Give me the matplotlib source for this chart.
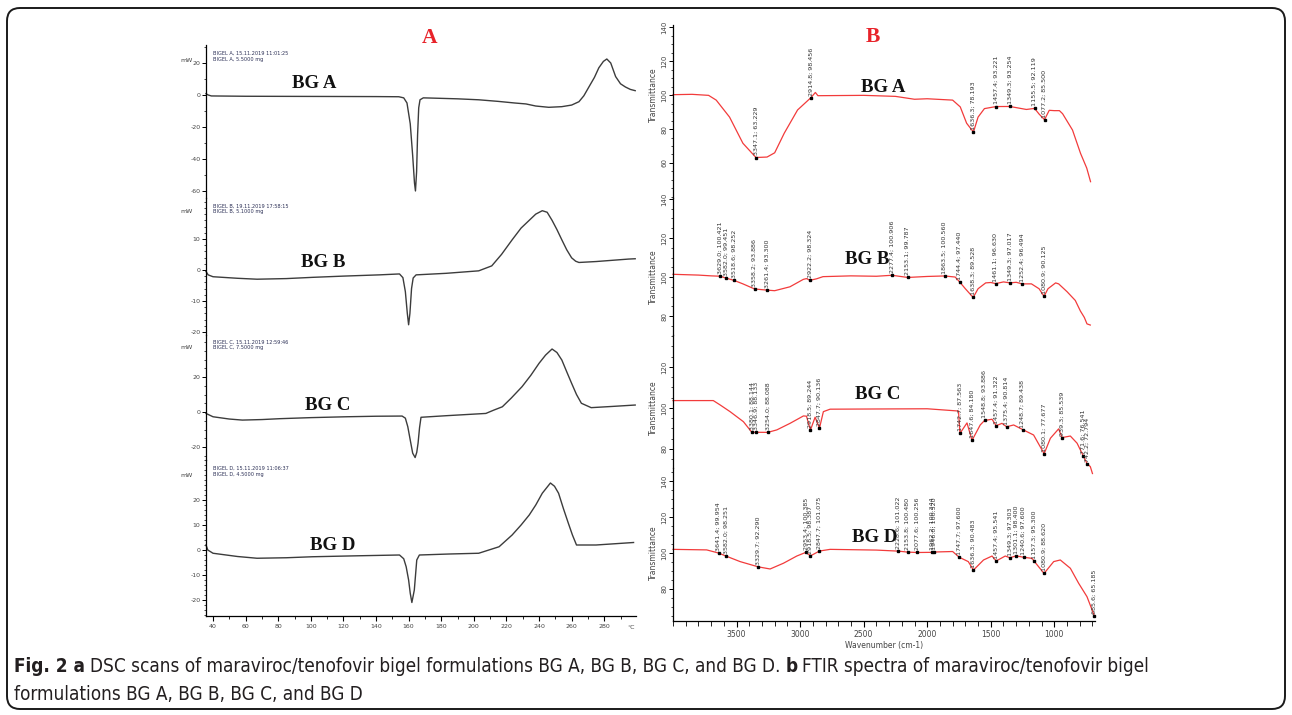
import numpy as np
import matplotlib
matplotlib.use('Agg')
import matplotlib.pyplot as plt
import matplotlib.transforms as mtransforms
from matplotlib import font_manager
from matplotlib.font_manager import FontProperties
from matplotlib.patches import FancyBboxPatch
from matplotlib.ticker import MultipleLocator, FixedLocator

plt.rcParams['axes.unicode_minus'] = False

W, H = 1292, 715

# ---------------- DSC data (temperature in degC, heat flow in mW) ----------------
dsc_names = ['BG A', 'BG B', 'BG C', 'BG D']
dsc_headers = ['BIGEL A, 15.11.2019 11:01:25\nBIGEL A, 5.5000 mg',
               'BIGEL B, 19.11.2019 17:58:15\nBIGEL B, 5.1000 mg',
               'BIGEL C, 15.11.2019 12:59:46\nBIGEL C, 7.5000 mg',
               'BIGEL D, 15.11.2019 11:06:37\nBIGEL D, 4.5000 mg']

dsc_a_temp = [35.7, 37, 39, 60, 100, 140, 154, 157, 159, 161, 162.5, 163.6, 164.2, 164.9, 165.5,
              166.2, 167, 169, 173, 190, 203, 215, 225, 232, 238, 246, 254, 260, 264.5, 267.5,
              270.6, 274, 276.7, 279.5, 281.6, 284, 287, 290, 293, 296, 299]
dsc_a_flow = [0.8, 0.0, -0.6, -0.8, -0.9, -1.0, -1.1, -1.8, -5, -18, -38, -55, -60, -48, -25,
              -8, -3, -1.8, -1.9, -2.4, -3.0, -4.0, -5.0, -5.6, -6.9, -7.7, -7.3, -6.3, -4.2, -0.5,
              5, 11, 17, 21, 22.5, 20, 11.5, 7, 5, 3.5, 2.7]

dsc_b_temp = [35.7, 37, 40, 55, 67, 85, 101, 120, 142, 154.4, 156.5, 158, 159.2, 160, 160.8,
              161.8, 162.8, 164.6, 183, 203, 211, 217, 223.5, 229, 234, 238, 242, 245, 248, 251,
              254, 257, 260, 262.5, 264.5, 275, 295, 299]
dsc_b_flow = [-0.5, -1.6, -2.2, -2.7, -3.0, -2.8, -2.4, -2.0, -1.6, -1.3, -2.5, -7, -14, -17.7, -14,
              -6, -2.6, -1.6, -1.1, -0.3, 1.3, 5, 9.7, 13.5, 16, 18, 19.1, 18.6, 16, 13,
              9.7, 6.5, 3.9, 2.8, 2.4, 2.7, 3.5, 3.6]

dsc_c_temp = [35.7, 40, 50, 58, 70, 81, 100, 122, 140, 156, 158, 159.5, 161, 162.5, 164,
              165, 165.8, 166.7, 167.6, 183, 207.4, 212, 217.5, 223, 229.6, 235, 240, 244, 248, 251,
              254, 257, 260, 263, 266, 272, 285, 299]
dsc_c_flow = [-0.8, -2.7, -4.0, -4.6, -4.3, -3.8, -3.2, -2.7, -2.4, -2.3, -3.5, -8.4, -16, -23.5, -26,
              -23, -17.8, -9, -3, -2.1, -0.8, 1, 3, 8, 14.5, 21, 27.8, 32.5, 36, 34,
              29.7, 23, 16.4, 10, 5, 2.5, 3.2, 4]

dsc_d_temp = [35.7, 36.8, 40, 55, 67, 85, 101, 130, 154.4, 157, 158.5, 160, 161, 162, 163.5,
              165, 166.6, 185, 203, 215.5, 223.5, 229, 234, 238, 242, 247, 249.5, 252, 255, 258,
              260.5, 263, 275, 298]
dsc_d_flow = [2, 0, -1.3, -2.6, -3.3, -3.1, -2.7, -2.3, -2.0, -3.5, -6.7, -12, -17.3, -21, -16,
              -4, -2, -1.6, -1.3, 1.3, 6, 10, 14, 18, 22.7, 26.8, 25.5, 22.7, 16.5, 10.7,
              6, 2, 2, 3]

dsc_temp_ticks = [40, 60, 80, 100, 120, 140, 160, 180, 200, 220, 240, 260, 280]

# ---------------- FTIR data (wavenumber in cm-1, transmittance in %) ----------------
ftir_a_wn = [4000, 3850, 3720, 3660, 3555, 3450, 3260, 3200, 3125, 3020, 2880, 2860, 2500, 2250, 2100,
             2000, 1800, 1740, 1690, 1600, 1550, 1220, 1120, 1040, 1000, 960, 935, 857, 794, 745, 715]
ftir_a_t = [100.2, 100.4, 99.8, 97, 87, 71.6, 63.5, 66, 77.5, 91.2, 101.5, 99.6, 99.8, 99.2, 97.5,
            97.8, 97, 93, 83.4, 87, 92, 91.5, 88.8, 91, 90.8, 90.8, 89, 79.4, 65.7, 57, 49]
ftir_a_peak_wn = [3347.1, 2914.8, 1636.3, 1457.4, 1349.3, 1155.5, 1077.2]
ftir_a_peak_t = [63.229, 98.456, 78.193, 93.221, 93.254, 92.119, 85.500]

ftir_b_wn = [4000, 3800, 3700, 3450, 3200, 3080, 2975, 2950, 2870, 2820, 2600, 2400, 2000, 1780, 1700,
             1600, 1540, 1500, 1400, 1300, 1180, 1120, 1050, 990, 966, 900, 835, 795, 764, 743, 717]
ftir_b_t = [101.4, 101.0, 100.6, 96.5, 93.0, 95.0, 98.8, 99.2, 99.1, 100.2, 100.6, 100.4, 100.3, 100.0, 94.0,
            94.0, 97.0, 97.2, 97.5, 97.3, 96.5, 94.0, 94.0, 97.0, 96.5, 92.5, 88.0, 82.6, 79.3, 76.0, 75.4]
ftir_b_peak_wn = [3629.0, 3582.0, 3518.6, 3358.2, 3261.4, 2922.2, 2277.4, 2153.1, 1863.5, 1744.4,
                  1638.3, 1461.1, 1349.3, 1252.4, 1080.9]
ftir_b_peak_t = [100.421, 99.451, 98.252, 93.886, 93.300, 98.324, 100.906, 99.787, 100.560, 97.440,
                 89.528, 96.630, 97.017, 96.494, 90.125]

ftir_c_wn = [4000, 3683, 3630, 3551, 3446, 3183, 3079, 2974, 2950, 2882, 2817, 2764, 2400, 2000,
             1754, 1687, 1583, 1490, 1412, 1320, 1163, 1031, 966, 874, 821, 717, 700]
ftir_c_t = [103.6, 103.6, 101.5, 98.2, 93.3, 89.3, 92.5, 96.1, 96.0, 95.5, 98.2, 99.4, 99.5, 99.6,
            98.5, 92.7, 91.7, 94.5, 92.5, 91.7, 86.8, 85.2, 89.8, 86.3, 82.8, 71.4, 68]
ftir_c_peak_wn = [3380.1, 3346.9, 3254.0, 2918.5, 2847.7, 1742.7, 1647.6, 1548.8, 1457.4, 1375.4,
                  1248.7, 1080.1, 939.3, 771.6, 742.2]
ftir_c_peak_t = [88.144, 88.133, 88.088, 89.244, 90.136, 87.563, 84.180, 93.886, 91.322, 90.814,
                 89.438, 77.677, 85.539, 76.541, 72.794]

ftir_d_wn = [4000, 3735, 3472, 3236, 3131, 3026, 2764, 2400, 1800, 1677, 1557, 1490, 1386, 1175,
             1005, 953, 874, 809, 743]
ftir_d_t = [102.0, 101.7, 95.2, 91.1, 94.3, 98.3, 102.0, 101.6, 100.8, 95.2, 96.1, 98.3, 98.3, 97.0,
            95.2, 96.1, 91.5, 83.2, 75.7]
ftir_d_peak_wn = [3641.4, 3582.0, 3329.7, 2953.4, 2918.5, 2847.7, 2228.6, 2153.8, 2077.6, 1962.2,
                  1946.0, 1747.7, 1636.3, 1457.4, 1349.3, 1301.1, 1240.6, 1157.3, 1080.9, 685.6]
ftir_d_peak_t = [99.954, 98.251, 92.290, 100.385, 98.387, 101.075, 101.022, 100.480, 100.256, 100.344,
                 100.520, 97.600, 90.483, 95.541, 97.303, 98.400, 97.600, 95.300, 88.620, 65.185]

ftir_wn_ticks = [3500, 3000, 2500, 2000, 1500, 1000]
ftir_t_ticks = [[60, 80, 100, 120, 140], [80, 100, 120, 140], [80, 100, 120], [80, 100, 120, 140]]

caption_l1 = [('Fig. 2 a', True),
              ('DSC scans of maraviroc/tenofovir bigel formulations BG A, BG B, BG C, and BG D.', False),
              ('b', True), ('FTIR spectra of maraviroc/tenofovir bigel', False)]
caption_l2 = [('formulations BG A, BG B, BG C, and BG D', False)]

# ---------------- fonts ----------------
installed = {f.name for f in font_manager.fontManager.ttflist}
narrow = 'Liberation Sans Narrow' if 'Liberation Sans Narrow' in installed else 'DejaVu Sans'
serif = 'Liberation Serif'


def condensed_face(bold):
    # look for a condensed sans face for the caption, fall back to Open Sans
    for f in font_manager.fontManager.ttflist:
        fn = f.fname.replace('\\', '/').split('/')[-1]
        if bold and fn in ('DejaVuSansCondensed-Bold.ttf', 'LiberationSansNarrow-Bold.ttf'):
            return FontProperties(fname=f.fname)
        if not bold and fn in ('DejaVuSansCondensed.ttf', 'LiberationSansNarrow-Regular.ttf'):
            return FontProperties(fname=f.fname)
    return FontProperties(family='Open Sans', weight='bold' if bold else 'normal')


cap_regular = condensed_face(False)
cap_bold = condensed_face(True)

fig = plt.figure(figsize=(W / 100, H / 100), dpi=100)
fig.patch.set_facecolor('white')


def pbox(l, t, r, b):
    return [l / W, 1 - b / H, (r - l) / W, (b - t) / H]


def style_axis(ax, bottom):
    for s in ('top', 'right'):
        ax.spines[s].set_visible(False)
    ax.spines['left'].set_linewidth(0.9)
    ax.spines['bottom'].set_linewidth(0.9)
    ax.spines['bottom'].set_visible(bottom)
    ax.patch.set_alpha(0)
    if not bottom:
        ax.tick_params(axis='x', which='both', bottom=False, labelbottom=False)


# ---------------- panel A: DSC ----------------
dsc_boxes = [(206, 45, 636, 198), (206, 198, 636, 335), (206, 335, 636, 460), (206, 460, 636, 616)]
dsc_ylims = [(-64.4, 31.25), (-21, 23.2), (-27.4, 44), (-26.4, 36)]
dsc_major = [[20, 0, -20, -40, -60], [10, 0, -10, -20], [20, 0, -20], [20, 10, 0, -10, -20]]
dsc_minor = [10, 2, 5, 2]
dsc_series = [(dsc_a_temp, dsc_a_flow), (dsc_b_temp, dsc_b_flow),
              (dsc_c_temp, dsc_c_flow), (dsc_d_temp, dsc_d_flow)]
dsc_name_pos = [(314, 83), (323, 262), (328, 406), (333, 546)]

for i, (temp, flow) in enumerate(dsc_series):
    ax = fig.add_axes(pbox(*dsc_boxes[i]))
    ax.plot(temp, flow, color='#3c3c3c', lw=1.0, clip_on=False)
    ax.set_xlim(35.7, 299.5)
    ax.set_ylim(*dsc_ylims[i])
    style_axis(ax, i == 3)
    ax.yaxis.set_major_locator(FixedLocator(dsc_major[i]))
    ax.yaxis.set_minor_locator(MultipleLocator(dsc_minor[i]))
    ax.tick_params(axis='y', which='major', direction='out', length=3, width=0.7,
                   labelsize=4.5, pad=1, labelcolor='#444444')
    ax.tick_params(axis='y', which='minor', direction='out', length=1.8, width=0.5)
    ax.text(-0.03, 0.9, 'mW', transform=ax.transAxes, fontsize=4.5, color='#444444',
            ha='right', va='center')
    ax.text(0.017, 0.96, dsc_headers[i], transform=ax.transAxes, fontsize=3.6,
            color='#2b2f55', va='top', ha='left', linespacing=1.1)
    x, y = dsc_name_pos[i]
    fig.text(x / W, 1 - y / H, dsc_names[i], family=serif, weight='bold', fontsize=13.5,
             ha='center', va='center', color='#111111')
    if i == 3:
        ax.xaxis.set_major_locator(FixedLocator(dsc_temp_ticks))
        ax.xaxis.set_minor_locator(MultipleLocator(10))
        ax.tick_params(axis='x', which='major', direction='out', length=3.5, width=0.8,
                       labelsize=4.5, pad=2.5, labelcolor='#444444')
        ax.tick_params(axis='x', which='minor', direction='out', length=2, width=0.6)
        trans = mtransforms.blended_transform_factory(ax.transData, ax.transAxes)
        ax.text(296.5, -0.075, '°C', transform=trans, fontsize=4.5, color='#444444',
                ha='center', va='center')

fig.text(430 / W, 1 - 38 / H, 'A', family=serif, weight='bold', fontsize=15.5,
         color='#e8232a', ha='center', va='center')

# ---------------- panel B: FTIR ----------------
ftir_boxes = [(673, 25, 1095, 198), (673, 198, 1095, 335), (673, 335, 1095, 468), (673, 468, 1095, 621)]
ftir_ylims = [(39.4, 141.2), (70.3, 140.5), (70.7, 135.6), (62.2, 147.2)]
ftir_series = [(ftir_a_wn, ftir_a_t, ftir_a_peak_wn, ftir_a_peak_t),
               (ftir_b_wn, ftir_b_t, ftir_b_peak_wn, ftir_b_peak_t),
               (ftir_c_wn, ftir_c_t, ftir_c_peak_wn, ftir_c_peak_t),
               (ftir_d_wn, ftir_d_t, ftir_d_peak_wn, ftir_d_peak_t)]
ftir_name_pos = [(883, 87), (867, 260), (878, 395), (875, 537)]

for i, (wn, tr, pk_wn, pk_t) in enumerate(ftir_series):
    ax = fig.add_axes(pbox(*ftir_boxes[i]))
    # spectrum drawn through the read points and the labelled peaks
    xs = np.concatenate([wn, pk_wn])
    ys = np.concatenate([tr, pk_t])
    order = np.argsort(-xs)
    ax.plot(xs[order], ys[order], color='#f23b3b', lw=0.9, clip_on=False)
    ax.plot(pk_wn, pk_t, 's', ms=1.8, color='black', clip_on=False)
    for w, t in zip(pk_wn, pk_t):
        ax.annotate(f'{w:.1f}; {t:.3f}', (w, t), xytext=(0, 1.5), textcoords='offset points',
                    rotation=90, ha='center', va='bottom', fontsize=4.6, family=narrow,
                    color='#333333', annotation_clip=False)
    ax.set_xlim(4000, 680)
    ax.set_ylim(*ftir_ylims[i])
    style_axis(ax, i == 3)
    ax.yaxis.set_major_locator(FixedLocator(ftir_t_ticks[i]))
    ax.yaxis.set_minor_locator(MultipleLocator(5))
    ax.tick_params(axis='y', which='major', direction='out', length=3, width=0.7,
                   labelsize=5, pad=1, labelrotation=90, labelcolor='#444444')
    ax.tick_params(axis='y', which='minor', direction='out', length=1.8, width=0.5)
    for lab in ax.get_yticklabels():
        lab.set_va('center')
    ax.set_ylabel('Transmittance', fontsize=5.5, color='#444444')
    lo, hi = ftir_ylims[i]
    ax.yaxis.set_label_coords(-15 / 422, (100 - lo) / (hi - lo))
    x, y = ftir_name_pos[i]
    fig.text(x / W, 1 - y / H, dsc_names[i], family=serif, weight='bold', fontsize=13.5,
             ha='center', va='center', color='#111111')
    if i == 3:
        ax.xaxis.set_major_locator(FixedLocator(ftir_wn_ticks))
        ax.xaxis.set_minor_locator(MultipleLocator(100))
        ax.tick_params(axis='x', which='major', direction='out', length=4.5, width=0.8,
                       labelsize=5.5, pad=2, labelcolor='#444444')
        ax.tick_params(axis='x', which='minor', direction='out', length=3.5, width=0.6)
        ax.set_xlabel('Wavenumber (cm-1)', fontsize=5.5, color='#444444', labelpad=1.5)

fig.text(873 / W, 1 - 37 / H, 'B', family=serif, weight='bold', fontsize=15.5,
         color='#e8232a', ha='center', va='center')

# ---------------- caption ----------------
renderer = fig.canvas.get_renderer()


def caption_line(parts, x0, y0, size):
    x = x0
    gap = 0.26 * size * 100 / 72
    texts = []
    for s, bold in parts:
        fp = (cap_bold if bold else cap_regular).copy()
        fp.set_size(size)
        t = fig.text(x / W, 1 - y0 / H, s, fontproperties=fp, color='#231f20',
                     ha='left', va='center')
        x += t.get_window_extent(renderer).width + gap
        texts.append(t)
    return texts, x - gap


probe, end = caption_line(caption_l1, 14, 667, 14)
size = 14 * (1160 - 14) / (end - 14)
for t in probe:
    t.remove()
caption_line(caption_l1, 14, 666, size)
caption_line(caption_l2, 14, 694, size)

# rounded frame around the whole figure
frame = FancyBboxPatch((7 / 100, 6 / 100), (1285 - 7) / 100, (709 - 8) / 100,
                       boxstyle='round,pad=0,rounding_size=0.13', transform=fig.dpi_scale_trans,
                       fill=False, edgecolor='#1a1a1a', lw=1.4)
fig.add_artist(frame)

fig.savefig('out.png', dpi=100)
